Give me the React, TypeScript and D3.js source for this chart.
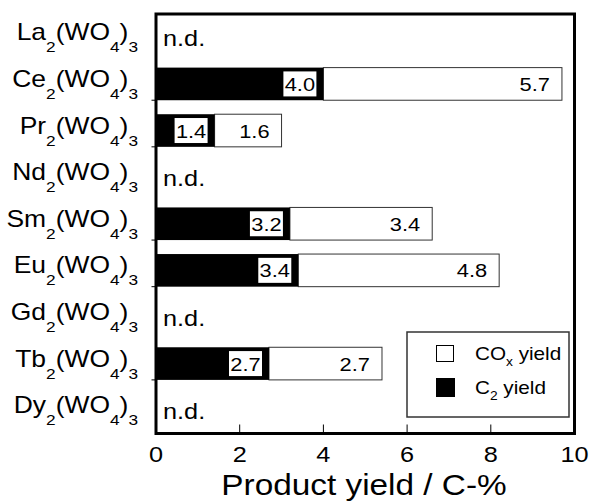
import * as d3 from "d3";
import React from "react";

// catalysts (top to bottom) and yields, null = n.d.
const catalysts = ["La", "Ce", "Pr", "Nd", "Sm", "Eu", "Gd", "Tb", "Dy"];
const c2Yield: (number | null)[] = [null, 4.0, 1.4, null, 3.2, 3.4, null, 2.7, null];
const coxYield: (number | null)[] = [null, 5.7, 1.6, null, 3.4, 4.8, null, 2.7, null];
const xTicks = [0, 2, 4, 6, 8, 10];

const W = 589;
const H = 502;
const FONT = "'Liberation Sans', Arial, sans-serif";
const SX = 1.15; // text in the figure is slightly stretched horizontally

export default function App() {
  const left = 156, right = 574.5, top = 14, bottom = 433.5;

  const x = d3.scaleLinear().domain([0, 10]).range([left, right]);
  const y = d3.scaleBand().domain(catalysts).range([top, bottom]);
  const barH = y.bandwidth() * 0.7;
  const mid = (c: string) => (y(c) as number) + y.bandwidth() / 2;

  return (
    <svg width={W} height={H} style={{ position: "absolute", left: 0, top: 0, background: "#fff" }} fontFamily={FONT}>
      {/* bars */}
      {catalysts.map((c, i) => {
        const c2 = c2Yield[i];
        const cox = coxYield[i];
        const cy = mid(c);
        if (c2 == null || cox == null) {
          return (
            <text key={c} transform={`translate(163,${cy + 9}) scale(${SX},1)`} fontSize={22}>
              n.d.
            </text>
          );
        }
        const x0 = x(0), x1 = x(c2), x2 = x(c2 + cox);
        const boxW = 33, boxH = 25;
        const boxR = x1 - 7;
        return (
          <g key={c}>
            <rect x={x1} y={cy - barH / 2} width={x2 - x1} height={barH} fill="#fff" stroke="#333" strokeWidth={1} />
            <rect x={x0} y={cy - barH / 2} width={x1 - x0} height={barH} fill="#000" />
            <rect x={boxR - boxW} y={cy - boxH / 2} width={boxW} height={boxH} fill="#fff" />
            <text transform={`translate(${boxR - boxW / 2},${cy + 7}) scale(${SX},1)`} textAnchor="middle" fontSize={19}>
              {c2.toFixed(1)}
            </text>
            <text transform={`translate(${x2 - 12},${cy + 7}) scale(${SX},1)`} textAnchor="end" fontSize={19}>
              {cox.toFixed(1)}
            </text>
            <line x1={151.5} x2={left} y1={cy + barH / 2} y2={cy + barH / 2} stroke="#000" strokeWidth={1} />
          </g>
        );
      })}

      {/* frame */}
      <rect x={left} y={top} width={right - left} height={bottom - top} fill="none" stroke="#000" strokeWidth={3} />

      {/* x ticks */}
      {xTicks.map((t) => (
        <g key={t}>
          {t > 0 && t < 10 && <line x1={x(t)} x2={x(t)} y1={bottom} y2={bottom - 9} stroke="#000" strokeWidth={1} />}
          <text transform={`translate(${x(t)},462) scale(${SX},1)`} textAnchor="middle" fontSize={22}>
            {t}
          </text>
        </g>
      ))}
      <text transform={`translate(364,495) scale(${SX},1)`} textAnchor="middle" fontSize={29}>
        Product yield / C-%
      </text>

      {/* category labels */}
      {catalysts.map((c) => (
        <text key={c} transform={`translate(138,${mid(c) + 3}) scale(${SX},1)`} textAnchor="end" fontSize={23}>
          {c}
          <tspan dy={12} fontSize={15}>2</tspan>
          <tspan dy={-12}>(WO</tspan>
          <tspan dy={12} fontSize={15}>4</tspan>
          <tspan dy={-12}>)</tspan>
          <tspan dy={12} fontSize={15}>3</tspan>
        </text>
      ))}

      {/* legend */}
      <rect x={407} y={332} width={162} height={85} fill="#fff" stroke="#333" strokeWidth={1.5} />
      <rect x={436.5} y={345.5} width={17} height={16} fill="#fff" stroke="#000" strokeWidth={1} />
      <rect x={436} y={378} width={19} height={19} fill="#000" />
      <text transform={`translate(475,360) scale(${SX},1)`} fontSize={18}>
        CO<tspan dy={6} fontSize={12}>x</tspan>
        <tspan dy={-6}> yield</tspan>
      </text>
      <text transform={`translate(475,394) scale(${SX},1)`} fontSize={18}>
        C<tspan dy={6} fontSize={12}>2</tspan>
        <tspan dy={-6}> yield</tspan>
      </text>
    </svg>
  );
}
